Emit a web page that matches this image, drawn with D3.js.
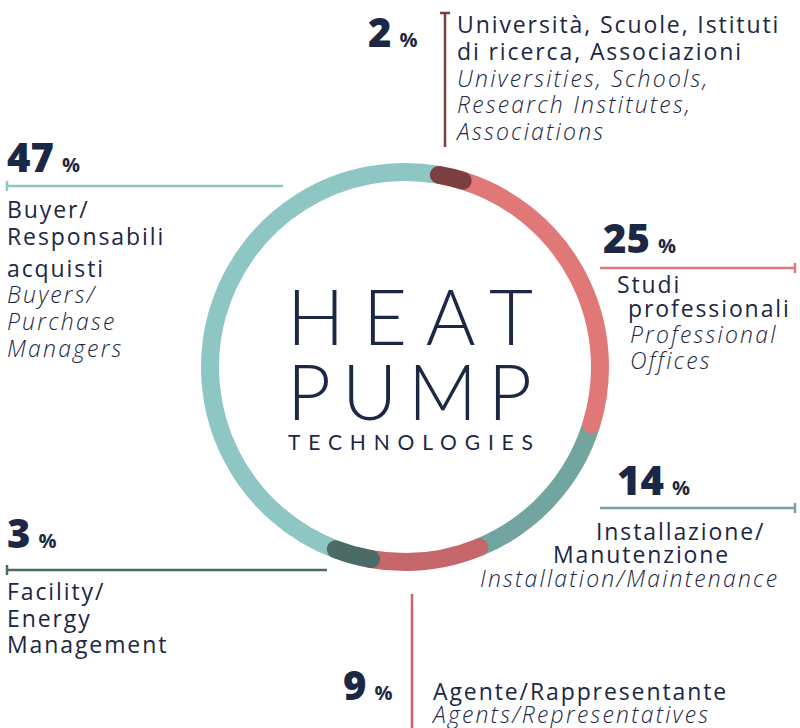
<!DOCTYPE html>
<html>
<head>
<meta charset="utf-8">
<script src="https://cdn.jsdelivr.net/npm/d3@7"></script>
<style>
  body { margin: 0; background: #fff; }
  svg { display: block; }
</style>
</head>
<body>
<svg id="chart"></svg>
<script>
// shares of visitors by profile, clockwise from the top
const shares = [2, 25, 14, 9, 3, 47];
const sliceColors = ["#7b3f40", "#e07878", "#72a4a0", "#c4666a", "#4c6a66", "#8ec6c4"];
const italianNames = [
  ["Università, Scuole, Istituti", "di ricerca, Associazioni"],
  ["Studi", "professionali"],
  ["Installazione/", "Manutenzione"],
  ["Agente/Rappresentante"],
  ["Facility/", "Energy", "Management"],
  ["Buyer/", "Responsabili", "acquisti"]
];
const englishNames = [
  ["Universities, Schools,", "Research Institutes,", "Associations"],
  ["Professional", "Offices"],
  ["Installation/Maintenance"],
  ["Agents/Representatives"],
  [],
  ["Buyers/", "Purchase", "Managers"]
];
const centerTitle = ["HEAT", "PUMP", "TECHNOLOGIES"];

const width = 800, height = 728;
const cx = 405, cy = 367, ringR = 195, ringW = 18;
const ink = "#1b2744";
const startDeg = 10;
const labelFont = "'Open Sans', 'Noto Sans', sans-serif";

// where each label block sits (per slice index)
const layout = [
  { pct: [368, 47], lead: { x1: 445, y1: 13, x2: 445, y2: 147 }, tick: "start", x: [457, 457, 457, 457, 457], y: [33, 60, 87, 113, 140] },
  { pct: [603, 253], lead: { x1: 600, y1: 268, x2: 795, y2: 268 }, tick: "end", x: [617, 628, 630, 630], y: [293, 317, 343, 369] },
  { pct: [617, 495], lead: { x1: 600, y1: 508, x2: 795, y2: 508 }, tick: "end", x: [596, 553, 480], y: [540, 563, 587] },
  { pct: [343, 700], lead: { x1: 412, y1: 594, x2: 412, y2: 728 }, tick: "none", x: [433, 433], y: [700, 723] },
  { pct: [7, 548], lead: { x1: 7, y1: 570, x2: 327, y2: 570 }, tick: "start", x: [7, 7, 7], y: [600, 627, 653] },
  { pct: [7, 172], lead: { x1: 7, y1: 186, x2: 283, y2: 186 }, tick: "start", x: [7, 7, 7, 7, 7, 7], y: [218, 245, 277, 303, 330, 357] }
];

const svg = d3.select("#chart").attr("width", width).attr("height", height);
svg.append("rect").attr("width", width).attr("height", height).attr("fill", "#fff");

const rad = d => d * Math.PI / 180;
const pie = d3.pie().sort(null).value(d => d)
  .startAngle(rad(startDeg)).endAngle(rad(startDeg + 360));
const slices = pie(shares).map((s, i) => ({ ...s, index: i }));

// later slices overlap their neighbours with round caps
const drawOrder = [5, 2, 1, 3, 4, 0];
const ring = svg.append("g").attr("transform", `translate(${cx},${cy})`);
ring.selectAll("path")
  .data(drawOrder.map(i => slices[i]))
  .enter().append("path")
  .attr("d", d => {
    const p = d3.path();
    p.arc(0, 0, ringR, d.startAngle - Math.PI / 2, d.endAngle - Math.PI / 2);
    return p.toString();
  })
  .attr("fill", "none")
  .attr("stroke", d => sliceColors[d.index])
  .attr("stroke-width", ringW)
  .attr("stroke-linecap", "round");

// title in the middle
const title = svg.append("g").attr("fill", ink).style("font-family", "Lato, 'Open Sans', sans-serif");
title.append("text").attr("x", 287).attr("y", 345).attr("font-size", 76).attr("font-weight", 300)
  .attr("textLength", 246).attr("lengthAdjust", "spacing").text(centerTitle[0]);
title.append("text").attr("x", 287).attr("y", 420).attr("font-size", 76).attr("font-weight", 300)
  .attr("textLength", 245).attr("lengthAdjust", "spacing").text(centerTitle[1]);
title.append("text").attr("x", 288).attr("y", 450).attr("font-size", 21).attr("font-weight", 400)
  .attr("textLength", 245).attr("lengthAdjust", "spacing").text(centerTitle[2]);

// labels
const labels = svg.append("g").style("font-family", labelFont);
slices.forEach((s, i) => {
  const L = layout[i];
  const col = sliceColors[i];
  const g = labels.append("g");

  g.append("line")
    .attr("x1", L.lead.x1).attr("y1", L.lead.y1).attr("x2", L.lead.x2).attr("y2", L.lead.y2)
    .attr("stroke", col).attr("stroke-width", 2.5);

  if (L.tick !== "none") {
    const tx = L.tick === "start" ? L.lead.x1 : L.lead.x2;
    const ty = L.tick === "start" ? L.lead.y1 : L.lead.y2;
    const vertical = L.lead.x1 === L.lead.x2;
    g.append("line")
      .attr("x1", vertical ? tx - 5 : tx).attr("x2", vertical ? tx + 5 : tx)
      .attr("y1", vertical ? ty : ty - 5).attr("y2", vertical ? ty : ty + 5)
      .attr("stroke", col).attr("stroke-width", 2.5);
  }

  const pct = g.append("text").attr("x", L.pct[0]).attr("y", L.pct[1]).attr("fill", ink);
  pct.append("tspan").attr("font-size", 40).attr("font-weight", 800).text(s.data);
  pct.append("tspan").attr("dx", 8).attr("font-size", 20).attr("font-weight", 700).text("%");

  const lines = italianNames[i].map(t => ({ t, italic: false }))
    .concat(englishNames[i].map(t => ({ t, italic: true })));
  lines.forEach((ln, k) => {
    g.append("text")
      .attr("x", L.x[k]).attr("y", L.y[k])
      .attr("fill", ink)
      .attr("font-size", 23)
      .attr("font-style", ln.italic ? "italic" : "normal")
      .attr("font-weight", ln.italic ? 300 : 400)
      .style("letter-spacing", ln.italic ? "2.2px" : "1.9px")
      .text(ln.t);
  });
});
</script>
</body>
</html>
